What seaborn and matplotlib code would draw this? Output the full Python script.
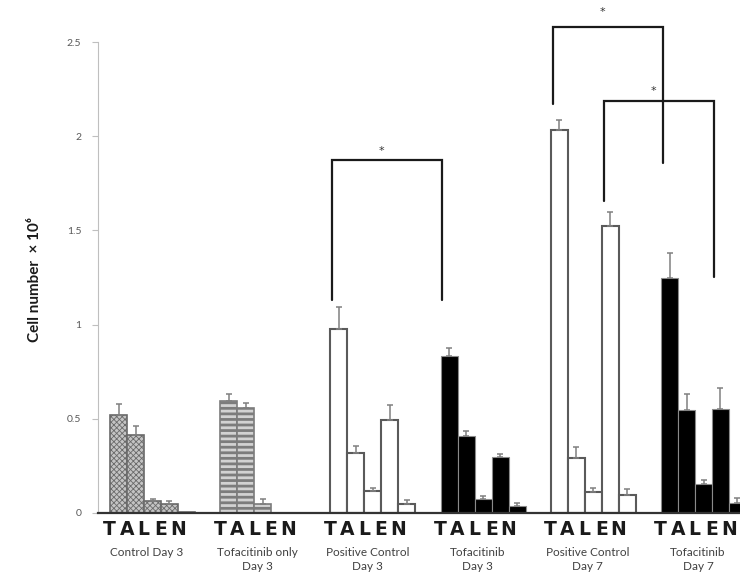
import numpy as np
import pandas as pd
import matplotlib
matplotlib.use('Agg')
import matplotlib.pyplot as plt
import matplotlib.transforms as mtrans
from matplotlib.container import BarContainer
import seaborn as sns

# Données (moyenne et erreur haute, en millions de cellules)
letters = ['T', 'A', 'L', 'E', 'N']
groups = ['Control Day 3', 'Tofacitinib only\nDay 3', 'Positive Control\nDay 3',
          'Tofacitinib\nDay 3', 'Positive Control\nDay 7', 'Tofacitinib\nDay 7']

control_d3 = [0.52, 0.414, 0.065, 0.046, 0.005]
tofa_only_d3 = [0.596, 0.556, 0.046, 0.0, 0.0]
positive_d3 = [0.975, 0.32, 0.118, 0.492, 0.05]
tofa_d3 = [0.832, 0.41, 0.073, 0.299, 0.039]
positive_d7 = [2.033, 0.294, 0.11, 1.525, 0.095]
tofa_d7 = [1.246, 0.547, 0.152, 0.55, 0.055]

control_d3_err = [0.057, 0.048, 0.009, 0.016, 0.0]
tofa_only_d3_err = [0.034, 0.026, 0.027, 0.0, 0.0]
positive_d3_err = [0.12, 0.035, 0.016, 0.081, 0.018]
tofa_d3_err = [0.042, 0.025, 0.018, 0.016, 0.014]
positive_d7_err = [0.053, 0.058, 0.024, 0.075, 0.031]
tofa_d7_err = [0.132, 0.085, 0.023, 0.115, 0.023]

# crochets de significativité : (groupe a, barre a, groupe b, barre b)
bracket_pairs = [(2, 'T', 3, 'T'), (4, 'T', 5, 'T'), (4, 'E', 5, 'E')]
bracket_tops = [1.874, 2.578, 2.187]
bracket_ends = [(1.13, 1.13), (2.17, 1.856), (1.656, 1.254)]
star_levels = [1.92, 2.661, 2.24]

means = [control_d3, tofa_only_d3, positive_d3, tofa_d3, positive_d7, tofa_d7]
errs = [control_d3_err, tofa_only_d3_err, positive_d3_err, tofa_d3_err,
        positive_d7_err, tofa_d7_err]

df = pd.DataFrame({
    'group': np.repeat(groups, len(letters)),
    'letter': letters * len(groups),
    'value': np.concatenate(means),
    'err': np.concatenate(errs),
})

sns.set_style('white')
plt.rcParams['font.family'] = ['Lato', 'DejaVu Sans']
plt.rcParams['hatch.linewidth'] = 0.6

fig = plt.figure(figsize=(7.4, 5.78), dpi=100)
ax = fig.add_axes([98 / 740, 65 / 578, 642 / 740, 513 / 578])

sns.barplot(data=df, x='group', y='value', hue='letter', order=groups,
            hue_order=letters, width=0.77, errorbar=None, legend=False, ax=ax)

# styles par groupe
styles = [
    dict(fc='#c4c4c4', ec='#4a4a4a', hc='#6a6a6a', hatch='xxxxxx', hlw=0.6, lw=1.2),
    dict(fc='#d2d2d2', ec='#2a2a2a', hc='#7c7c7c', hatch='---', hlw=2.0, lw=1.2),
    dict(fc='white', ec='#5a5a5a', hc=None, hatch=None, hlw=None, lw=1.5),
    dict(fc='black', ec='#8a8a8a', hc=None, hatch=None, hlw=None, lw=0.8),
    dict(fc='white', ec='#5a5a5a', hc=None, hatch=None, hlw=None, lw=1.5),
    dict(fc='black', ec='#8a8a8a', hc=None, hatch=None, hlw=None, lw=0.8),
]

bar_conts = [c for c in ax.containers if isinstance(c, BarContainer)]
centers, labels, lefts = [], [], {}
for j, cont in enumerate(bar_conts):
    for i, bar in enumerate(cont.patches):
        st = styles[i]
        bar.set_facecolor(st['fc'])
        bar.set_edgecolor(st['ec'])
        bar.set_linewidth(st['lw'])
        if st['hatch']:
            bar.set_hatch(st['hatch'])
            if hasattr(bar, 'set_hatchcolor'):
                bar.set_hatchcolor(st['hc'])
            else:
                bar.set_edgecolor(st['hc'])
            if hasattr(bar, 'set_hatch_linewidth'):
                bar.set_hatch_linewidth(st['hlw'])
        x = bar.get_x() + bar.get_width() / 2
        centers.append(x - 0.08)
        labels.append(letters[j])
        lefts[(i, letters[j])] = (bar.get_x(), bar.get_width())
        row = df[(df['group'] == groups[i]) & (df['letter'] == letters[j])].iloc[0]
        if row['err'] > 0:
            ax.errorbar(x, row['value'], yerr=[[0], [row['err']]], fmt='none',
                        ecolor='#808080', elinewidth=1.1, capsize=2.3, capthick=1.1,
                        zorder=1)

ax.set_xlim(-0.4946, 5.331)
ax.set_ylim(0, 2.723)
ax.set_yticks([0, 0.5, 1, 1.5, 2, 2.5], ['0', '0.5', '1', '1.5', '2', '2.5'])
ax.set_xticks(centers, labels)
ax.tick_params(axis='x', length=0, pad=5, labelsize=13.5, labelcolor='#1a1a1a')
for t in ax.get_xticklabels():
    t.set_fontweight('bold')
    t.set_family(['DejaVu Sans'])
ax.tick_params(axis='y', left=True, length=4, width=0.8, color='#bfbfbf',
               labelsize=7.5, labelcolor='#595959', pad=8, direction='out')
ax.set_xlabel('')
ax.set_ylabel('')

sns.despine(ax=ax, top=True, right=True)
ax.spines['left'].set_color('#bfbfbf')
ax.spines['left'].set_linewidth(0.8)
ax.spines['left'].set_bounds(0, 2.5)
ax.spines['bottom'].set_color('#333333')
ax.spines['bottom'].set_linewidth(1.6)

# étiquettes des groupes sous les lettres
trans = mtrans.blended_transform_factory(ax.transData, ax.transAxes)
for i, g in enumerate(groups):
    ax.text(i - 0.05, -0.066, g, transform=trans, ha='center', va='top', fontsize=8.5,
            color='#404040', linespacing=1.3, clip_on=False)

# crochets et étoiles
for (ga, la, gb, lb), top, (ea, eb), sy in zip(bracket_pairs, bracket_tops,
                                               bracket_ends, star_levels):
    xa = lefts[(ga, la)][0] + 0.1 * lefts[(ga, la)][1]
    xb = lefts[(gb, lb)][0] + 0.1 * lefts[(gb, lb)][1]
    ax.plot([xa, xa, xb, xb], [ea, top, top, eb], color='#1a1a1a', lw=1.6,
            solid_joinstyle='miter', clip_on=False)
    ax.text(xa + 0.45 * (xb - xa), sy, '*', ha='center', va='center',
            fontsize=8, color='#333333', family=['DejaVu Sans'])

fig.text(35 / 740, 1 - 280 / 578, 'Cell number  \u00d7 10\u2076', rotation=90,
         ha='center', va='center', fontsize=11, fontweight='bold', color='#1a1a1a')

fig.savefig('out.png', dpi=100)
